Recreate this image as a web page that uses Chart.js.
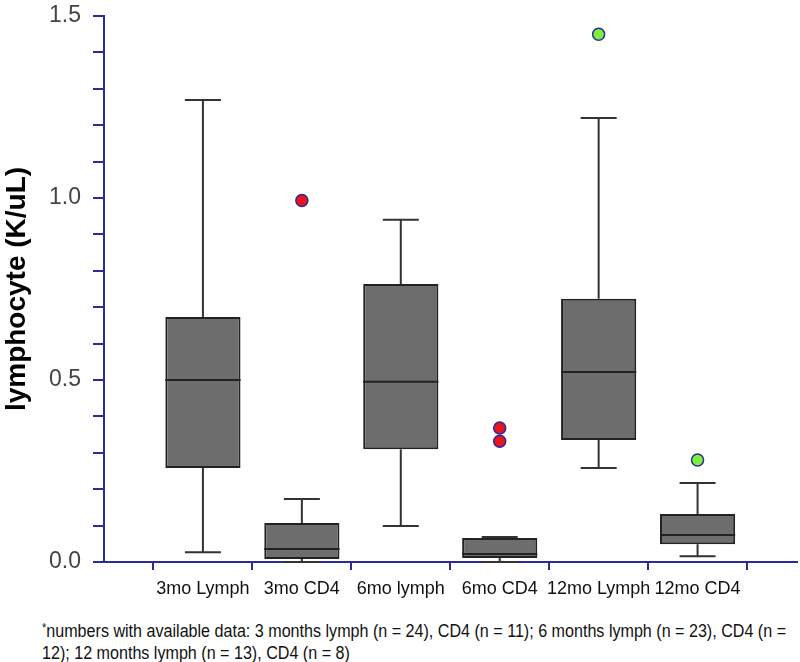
<!DOCTYPE html>
<html>
<head>
<meta charset="utf-8">
<script src="https://cdn.jsdelivr.net/npm/chart.js@4"></script>
<style>
  body { margin: 0; background: #fff; overflow: hidden; }
  #wrap { position: absolute; left: 0; top: 0; width: 800px; height: 610px; overflow: hidden; }
  #note { position: absolute; left: 42px; top: 620px; white-space: nowrap;
          font-family: "Liberation Sans", Arial, sans-serif;
          font-size: 17.5px; line-height: 22px; color: #111;
          transform: scaleX(0.92); transform-origin: 0 0; }
  #note sup { font-size: 12px; vertical-align: 5px; line-height: 0; }
</style>
</head>
<body>
<div id="wrap"><canvas id="boxChart" width="804" height="610"></canvas></div>
<div id="note"><sup>*</sup>numbers with available data: 3 months lymph (n = 24), CD4 (n = 11); 6 months lymph (n = 23), CD4 (n =<br>12); 12 months lymph (n = 13), CD4 (n = 8)</div>
<script>
// box plot of lymphocyte / CD4 counts at 3, 6 and 12 months
const categories = ['3mo Lymph', '3mo CD4', '6mo lymph', '6mo CD4', '12mo Lymph', '12mo CD4'];
const whiskerLow  = [0.027, 0.000, 0.099, 0.000, 0.258, 0.016];
const q1          = [0.258, 0.008, 0.310, 0.011, 0.335, 0.049];
const median      = [0.500, 0.036, 0.495, 0.022, 0.522, 0.074];
const q3          = [0.673, 0.107, 0.764, 0.066, 0.723, 0.132];
const whiskerHigh = [1.269, 0.173, 0.940, 0.069, 1.220, 0.217];

const outlierCats = ['3mo CD4', '6mo CD4', '6mo CD4', '12mo Lymph', '12mo CD4'];
const outlierVals = [0.993, 0.368, 0.332, 1.450, 0.280];

const yTicks = [0.0, 0.5, 1.0, 1.5];

// one empty slot before and after the boxes, like the original axis
const labels = [''].concat(categories, ['']);
const axisColor = '#2b2b9c';

const whiskerPlugin = {
    id: 'whiskers',
    beforeDatasetsDraw(chart) {
        const c = chart.ctx, x = chart.scales.x, y = chart.scales.y;
        c.save();
        c.strokeStyle = '#333';
        c.lineWidth = 2;
        categories.forEach((cat, i) => {
            const px = x.getPixelForValue(i + 1);
            c.beginPath();
            c.moveTo(px, y.getPixelForValue(q3[i]));
            c.lineTo(px, y.getPixelForValue(whiskerHigh[i]));
            c.moveTo(px, y.getPixelForValue(q1[i]));
            c.lineTo(px, y.getPixelForValue(whiskerLow[i]));
            [whiskerHigh[i], whiskerLow[i]].forEach(v => {
                const py = y.getPixelForValue(v);
                c.moveTo(px - 18, py);
                c.lineTo(px + 18, py);
            });
            c.stroke();
        });
        c.restore();
    },
    afterDatasetDraw(chart, args) {
        if (args.index !== 0) return;
        const c = chart.ctx, y = chart.scales.y;
        const bars = chart.getDatasetMeta(0).data;
        c.save();
        c.strokeStyle = '#222';
        c.lineWidth = 2;
        categories.forEach((cat, i) => {
            const bar = bars[i + 1];
            const py = y.getPixelForValue(median[i]);
            c.beginPath();
            c.moveTo(bar.x - bar.width / 2, py);
            c.lineTo(bar.x + bar.width / 2, py);
            c.stroke();
        });
        c.restore();
    }
};

new Chart(document.getElementById('boxChart').getContext('2d'), {
    type: 'bar',
    data: {
        labels: labels,
        datasets: [{
            label: 'box',
            data: [null].concat(categories.map((c, i) => [q1[i], q3[i]]), [null]),
            backgroundColor: '#6d6d6d',
            borderColor: '#222',
            borderWidth: 2,
            borderSkipped: false,
            barPercentage: 0.76,
            categoryPercentage: 1,
            order: 2
        }, {
            type: 'scatter',
            label: 'outliers',
            data: outlierCats.map((c, i) => ({ x: c, y: outlierVals[i] })),
            backgroundColor: outlierCats.map(c => c.indexOf('12mo') === 0 ? '#7cf03a' : '#e8141e'),
            borderColor: '#2b2b9c',
            borderWidth: 1.5,
            pointRadius: 6,
            order: 1
        }]
    },
    options: {
        responsive: false,
        animation: false,
        layout: { padding: 0 },
        plugins: { legend: { display: false }, tooltip: { enabled: false } },
        scales: {
            x: {
                offset: false,
                border: { color: axisColor, width: 2 },
                grid: { drawOnChartArea: false, color: axisColor, lineWidth: 2, tickLength: 8 },
                ticks: {
                    color: '#111',
                    padding: 8,
                    maxRotation: 0,
                    autoSkip: false,
                    font: { family: '"Liberation Sans", Arial, sans-serif', size: 18 }
                },
                afterFit: s => { s.height = 48; s.paddingLeft = 0; s.paddingRight = 0; }
            },
            y: {
                min: 0,
                max: 1.5,
                border: { color: axisColor, width: 2 },
                grid: { drawOnChartArea: false, color: axisColor, lineWidth: 2, tickLength: 11 },
                ticks: {
                    stepSize: 0.1,
                    autoSkip: false,
                    padding: 12,
                    color: '#444',
                    font: { family: '"Liberation Sans", Arial, sans-serif', size: 23 },
                    callback: v => yTicks.some(t => Math.abs(t - v) < 1e-6) ? v.toFixed(1) : ''
                },
                title: {
                    display: true,
                    text: 'lymphocyte (K/uL)',
                    color: '#000',
                    padding: { top: 0, bottom: 0 },
                    font: { family: '"Liberation Sans", Arial, sans-serif', size: 28, weight: 'bold' }
                },
                afterFit: s => { s.width = 104; s.paddingTop = 16; s.paddingBottom = 0; }
            }
        }
    },
    plugins: [whiskerPlugin]
});
</script>
</body>
</html>
